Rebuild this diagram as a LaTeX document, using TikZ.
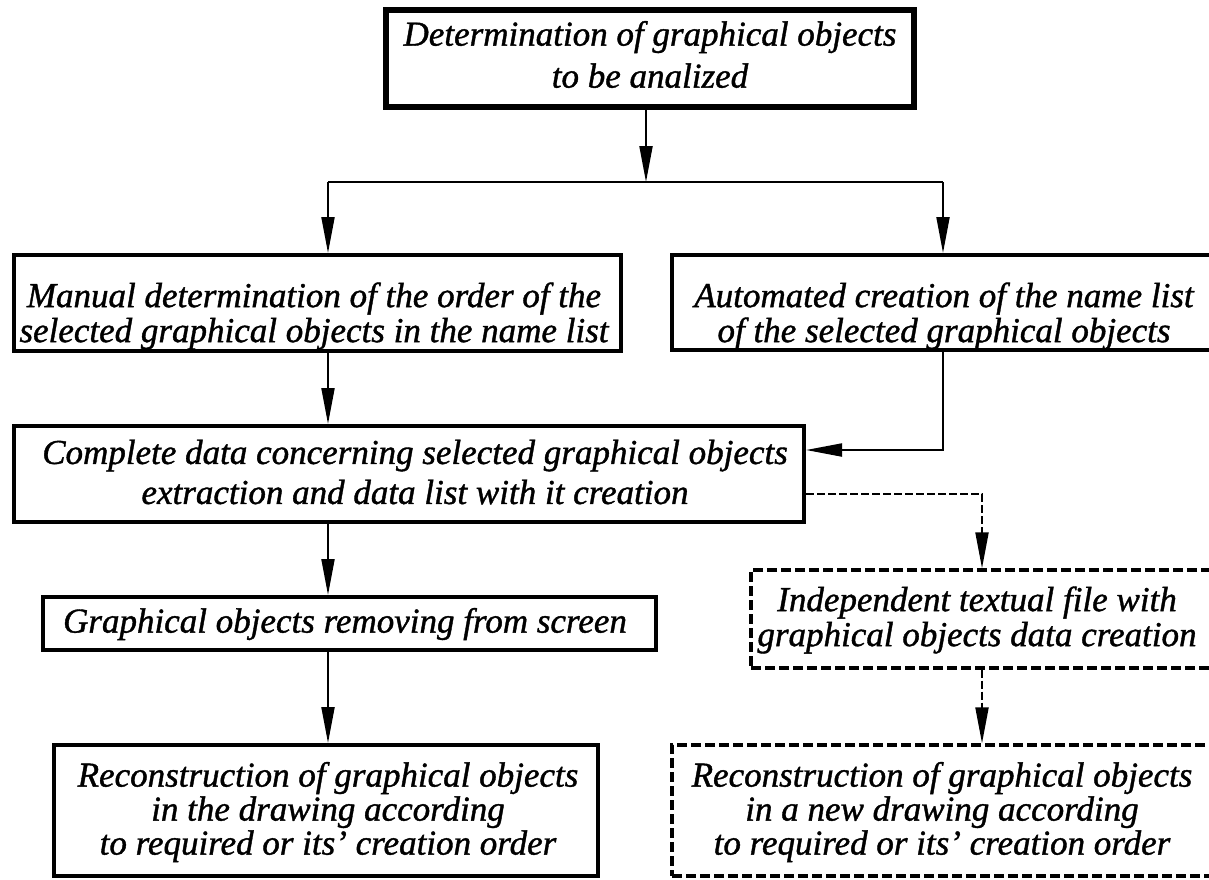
\documentclass[tikz,border=0pt]{standalone}
\usepackage{fontspec}
\setmainfont{Liberation Serif}
\usetikzlibrary{arrows.meta}
\newcommand{\heavyit}{\itshape\addfontfeatures{FakeBold=1.1}}
\begin{document}
\begin{tikzpicture}[x=1pt,y=-1pt,
  txt/.style={font=\fontsize{35}{35}\selectfont\heavyit, align=center, inner sep=0pt},
  sbox/.style={draw, line width=4pt, rectangle, inner sep=0pt},
  dbox/.style={draw, line width=3.3pt, dash pattern=on 10pt off 4pt, rectangle, inner sep=0pt},
  tip/.style={-{Triangle[length=36pt,width=13pt]}},
  arr/.style={line width=2pt, tip},
  darr/.style={line width=2pt, dash pattern=on 8pt off 3pt, tip},
  conn/.style={line width=2pt}
]
\useasboundingbox (0,0) rectangle (1209,879);
\fill[white] (0,0) rectangle (1209,879);

% boxes
\node[sbox, line width=5.5pt, minimum width=528pt, minimum height=97pt] (top) at (650,58.5) {};
\node[sbox, minimum width=607pt, minimum height=96pt] (manual) at (317.5,303) {};
\node[sbox, minimum width=544pt, minimum height=95pt] (auto) at (944,302.5) {};
\node[sbox, minimum width=790pt, minimum height=96pt] (complete) at (409,474) {};
\node[sbox, minimum width=613pt, minimum height=53pt] (remove) at (349.5,623.5) {};
\node[sbox, minimum width=544pt, minimum height=131pt] (final) at (326,810.5) {};
\node[dbox, minimum width=461pt, minimum height=98pt] (file) at (981.5,619) {};
\node[dbox, minimum width=544pt, minimum height=131pt] (newdr) at (944,810.5) {};

% texts
\node[txt, font=\fontsize{35}{42}\selectfont\heavyit] (toptext) at (650,54.5)
  {Determination of graphical objects\\to be analized};
\node[txt] (mantext) at (314,316)
  {Manual determination of the order of the\\selected graphical objects in the name list};
\node[txt] (autotext) at (944,316)
  {Automated creation of the name list\\of the selected graphical objects};
\node[txt, font=\fontsize{35}{40}\selectfont\heavyit] (comptext) at (415,472)
  {Complete data concerning selected graphical objects\\extraction and data list with it creation};
\node[txt] (remtext) at (345,624)
  {Graphical objects removing from screen};
\node[txt, font=\fontsize{35}{34}\selectfont\heavyit] (fintext) at (328,812)
  {Reconstruction of graphical objects\\in the drawing according\\to required or its' creation order};
\node[txt] (filetext) at (977,620)
  {Independent textual file with\\graphical objects data creation};
\node[txt, font=\fontsize{35}{34}\selectfont\heavyit] (newtext) at (942,812)
  {Reconstruction of graphical objects\\in a new drawing according\\to required or its' creation order};

% connectors
\coordinate (branch) at (646,182);
\coordinate (bl) at (328,182);
\coordinate (br) at (943,182);
\coordinate (ac) at (943,450);
\coordinate (dc) at (982,494);

\draw[arr] (branch |- top.south) -- (branch);
\draw[conn] (bl) -- (br);
\draw[arr] (bl) -- (bl |- manual.north);
\draw[arr] (br) -- (br |- auto.north);
\draw[arr] (bl |- manual.south) -- (bl |- complete.north);
\draw[arr] (ac |- auto.south) -- (ac) -- (ac -| complete.east);
\draw[darr] (dc -| complete.east) -- (dc) -- (dc |- file.north);
\draw[darr] (dc |- file.south) -- (dc |- newdr.north);
\draw[arr] (bl |- complete.south) -- (bl |- remove.north);
\draw[arr] (bl |- remove.south) -- (bl |- final.north);
\end{tikzpicture}
\end{document}
